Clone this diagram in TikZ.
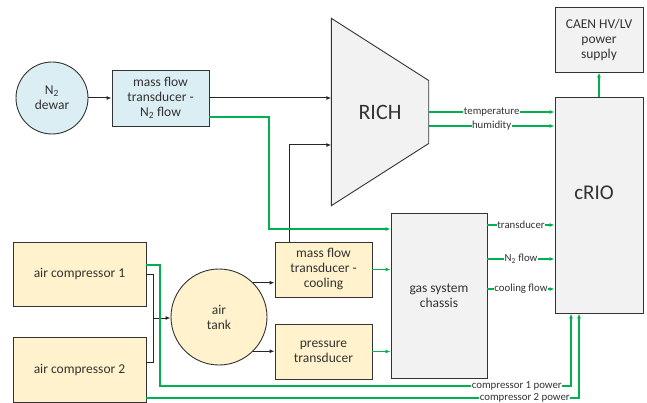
\documentclass[tikz,border=0pt]{standalone}
\usepackage{fontspec}
\setmainfont{Carlito}
\usetikzlibrary{arrows.meta, positioning, backgrounds}

\definecolor{sigGreen}{HTML}{00B050}
\definecolor{nFill}{HTML}{DAEEF3}
\definecolor{airFill}{HTML}{FFF2CC}
\definecolor{boxGray}{HTML}{F2F2F2}
\definecolor{txtGray}{HTML}{333333}

\begin{document}
\begin{tikzpicture}[x=1pt, y=-1pt,
    box/.style={rectangle, draw=black!80, line width=0.9pt, align=center, font=\fontsize{13.5}{15}\selectfont, text=txtGray, inner sep=1pt},
    nbox/.style={box, fill=nFill},
    abox/.style={box, fill=airFill},
    gbox/.style={box, fill=boxGray},
    vessel/.style={circle, draw=black!80, line width=0.9pt, align=center, font=\fontsize{13.5}{15}\selectfont, text=txtGray, inner sep=0pt},
    pipe/.style={-{Latex[length=5pt,width=4pt]}, line width=1pt, draw=black!85},
    sig/.style={-{Latex[length=5pt,width=4pt]}, line width=1.1pt, draw=sigGreen},
    siglabel/.style={font=\fontsize{10.8}{11}\selectfont, text=txtGray, fill=white, inner sep=0.5pt}
]
\useasboundingbox (0,0) rectangle (647,403);

% Nitrogen side
\node[vessel, fill=nFill, minimum size=72pt] (dewar) at (52,98) {N\textsubscript{2}\\dewar};
\node[nbox, minimum width=97pt, minimum height=56pt] (n2flow) at (160.5,98) {mass flow\\transducer -\\N\textsubscript{2} flow};

% Detector and readout
\node[minimum width=97pt, minimum height=187pt, inner sep=0pt, font=\fontsize{22}{24}\selectfont, text=txtGray] (rich) at (380,112) {RICH};
\node[gbox, minimum width=88pt, minimum height=65pt] (caen) at (599,39.5) {CAEN HV/LV\\power\\supply};
\node[gbox, minimum width=88pt, minimum height=216pt,
      label={[font=\fontsize{21}{24}\selectfont, text=txtGray, xshift=-5pt, yshift=12pt]center:cRIO}] (crio) at (599,205) {};
\node[gbox, minimum width=96pt, minimum height=165pt] (chassis) at (439,295.5) {gas system\\chassis};

% Air side
\node[abox, minimum width=97pt, minimum height=55pt] (cool) at (323.5,269.5) {mass flow\\transducer -\\cooling};
\node[abox, minimum width=97pt, minimum height=55pt] (press) at (323.5,351.5) {pressure\\transducer};
\node[abox, minimum width=133pt, minimum height=64pt] (comp1) at (79.5,274) {air compressor 1};
\node[abox, minimum width=133pt, minimum height=65pt] (comp2) at (79.5,369.5) {air compressor 2};
\node[vessel, fill=airFill, minimum size=96pt] (airtank) at (219,317) {air\\tank};

\coordinate (n2bend) at (269,229);
\coordinate (merge) at (153,318);
\coordinate (p1bend) at (160,386);
\coordinate (p1up) at ([xshift=-28pt]crio.south);
\coordinate (p2up) at ([xshift=-20pt]crio.south);

\begin{scope}[on background layer]
\draw[fill=boxGray, draw=black!80, line width=0.9pt] (rich.north west) -- ([yshift=31.5pt]rich.east) -- ([yshift=-31.5pt]rich.east) -- (rich.south west) -- cycle;
\end{scope}

% Gas lines
\draw[pipe] (dewar) -- (n2flow);
\draw[pipe] (n2flow) -- (n2flow -| rich.west);
\draw[pipe] ([xshift=-34.5pt]cool.north) |- ([yshift=-33pt]rich.west);
\draw[line width=1pt, draw=black!85] (comp1) -- (comp1 -| merge) |- ([yshift=7.5pt]comp2.east);
\draw[pipe] (merge) -- (merge -| airtank.west);
\draw[pipe] (airtank.45) -- (airtank.45 -| cool.west);
\draw[pipe] (airtank.-45) -- (airtank.-45 -| press.west);

% Signals
\draw[sig] ([yshift=-19pt]n2flow.east) -| (n2bend) -- (n2bend -| chassis.west);
\draw[sig] (cool) -- (cool -| chassis.west);
\draw[sig] (press) -- (press -| chassis.west);
\draw[sig] (rich.east) -- node[siglabel] {temperature} (rich.east -| crio.west);
\draw[sig] ([yshift=-14pt]rich.east) -- node[siglabel] {humidity} ([yshift=-14pt]rich.east -| crio.west);
\draw[sig] ([yshift=70.5pt]chassis.east) -- node[siglabel] {transducer} ([yshift=70.5pt]chassis.east -| crio.west);
\draw[sig] ([yshift=36.5pt]chassis.east) -- node[siglabel] {N\textsubscript{2} flow} ([yshift=36.5pt]chassis.east -| crio.west);
\draw[sig] ([yshift=6.5pt]chassis.east) -- node[siglabel] {cooling flow} ([yshift=6.5pt]chassis.east -| crio.west);
\draw[sig] (crio) -- (caen);
\draw[sig] ([yshift=9pt]comp1.east) -| (p1bend) -- node[siglabel, anchor=east, pos=0.98] {compressor 1 power} (p1bend -| p1up) -- (p1up);
\draw[sig] ([yshift=-28.5pt]comp2.east) -- node[siglabel, anchor=east, pos=0.981] {compressor 2 power} ([yshift=-28.5pt]comp2.east -| p2up) -- (p2up);

\end{tikzpicture}
\end{document}
